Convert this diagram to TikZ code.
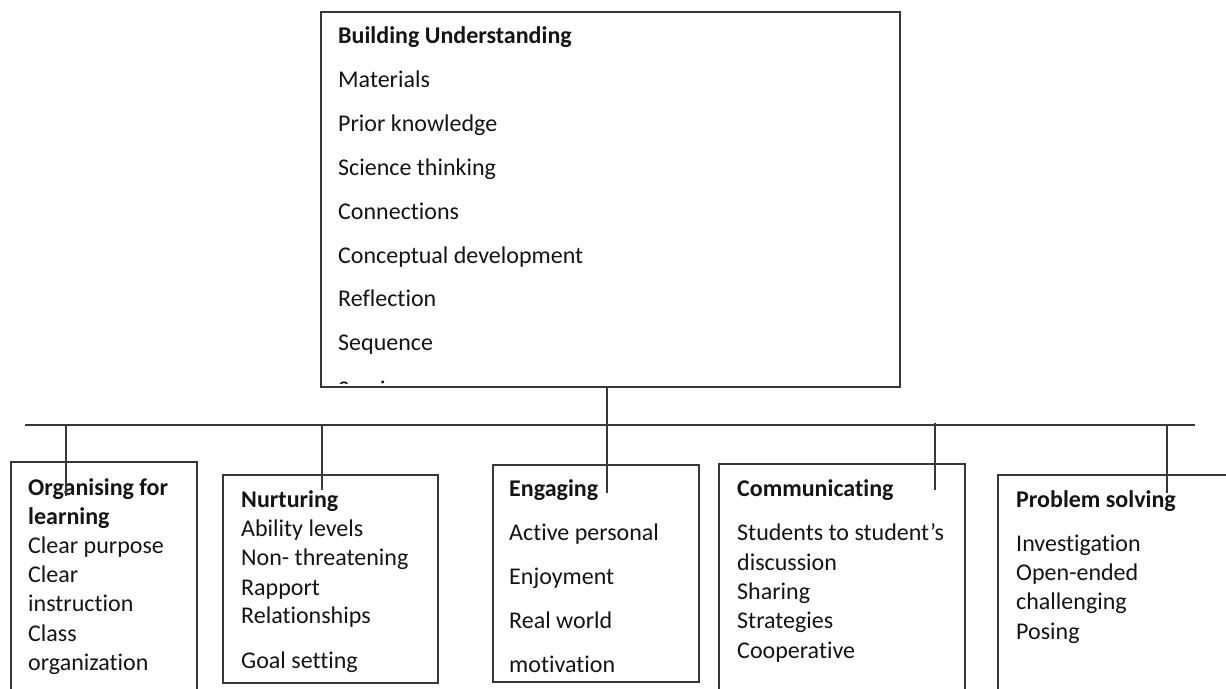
\documentclass[tikz,border=0pt]{standalone}
\usepackage{fontspec}
\setmainfont{Carlito}[Ligatures=NoCommon]
\begin{document}
\begin{tikzpicture}[x=1pt,y=-1pt,
  ln/.style={line width=1.3pt, draw=black!78},
  box/.style={ln, rectangle, anchor=north west, inner sep=0pt, outer sep=0pt},
  txt/.style={anchor=base west, inner sep=0pt, font=\fontsize{24}{29}\selectfont, text=black!92},
  hd/.style={txt, font=\fontsize{24}{29}\selectfont\bfseries}]
\useasboundingbox (0,0) rectangle (1226,688);
\clip (0,0) rectangle (1226,688);

% boxes
\node[box, minimum width=579pt, minimum height=375pt] (top) at (321,12) {};
\node[box, minimum width=186pt, minimum height=260pt] (b1) at (11,462) {};
\node[box, minimum width=215pt, minimum height=208pt] (b2) at (223,475) {};
\node[box, minimum width=206pt, minimum height=217pt] (b3) at (493,465) {};
\node[box, minimum width=246pt, minimum height=260pt] (b4) at (719,464) {};
\node[box, minimum width=260pt, minimum height=260pt] (b5) at (998,475) {};

% top box text
\node[hd] (t0) at (338,43) {Building Understanding};
\node[txt] (t1) at (338,87) {Materials};
\node[txt] (t2) at (338,131) {Prior knowledge};
\node[txt] (t3) at (338,175) {Science thinking};
\node[txt] (t4) at (338,219) {Connections};
\node[txt] (t5) at (338,263) {Conceptual development};
\node[txt] (t6) at (338,306) {Reflection};
\node[txt] (t7) at (338,350) {Sequence};
\begin{scope}
\clip (330,370) rectangle (890,383);
\node[txt] (t8) at (338,397) {Scoring};
\end{scope}

% box 1
\node[hd] (a0) at (28,495) {Organising for};
\node[hd] (a1) at (28,524) {learning};
\node[txt] (a2) at (28,553) {Clear purpose};
\node[txt] (a3) at (28,582) {Clear};
\node[txt] (a4) at (28,611) {instruction};
\node[txt] (a5) at (28,641) {Class};
\node[txt] (a6) at (28,670) {organization};

% box 2
\node[hd] (n0) at (241,507) {Nurturing};
\node[txt] (n1) at (241,536) {Ability levels};
\node[txt] (n2) at (241,565) {Non- threatening};
\node[txt] (n3) at (241,595) {Rapport};
\node[txt] (n4) at (241,623) {Relationships};
\node[txt] (n5) at (241,668) {Goal setting};

% box 3
\node[hd] (e0) at (509,496) {Engaging};
\node[txt] (e1) at (509,540) {Active personal};
\node[txt] (e2) at (509,584) {Enjoyment};
\node[txt] (e3) at (509,628) {Real world};
\node[txt] (e4) at (509,672) {motivation};

% box 4
\node[hd] (c0) at (737,496) {Communicating};
\node[txt] (c1) at (737,540) {Students to student’s};
\node[txt] (c2) at (737,570) {discussion};
\node[txt] (c3) at (737,599) {Sharing};
\node[txt] (c4) at (737,628) {Strategies};
\node[txt] (c5) at (737,658) {Cooperative};

% box 5
\node[hd] (p0) at (1016,507) {Problem solving};
\node[txt] (p1) at (1016,551) {Investigation};
\node[txt] (p2) at (1016,580) {Open-ended};
\node[txt] (p3) at (1016,609) {challenging};
\node[txt] (p4) at (1016,639) {Posing};

% connectors
\coordinate (busL) at (25,425);
\coordinate (busR) at (1195,425);
\draw[ln] (busL) -- (busR);

\coordinate (eEnd) at (607,493);
\draw[ln] (top.south -| eEnd) -- (eEnd);

\coordinate (d1s) at (66,425);  \coordinate (d1e) at (66,496);
\coordinate (d2s) at (322,425); \coordinate (d2e) at (322,490);
\coordinate (d4s) at (935,423); \coordinate (d4e) at (935,490);
\coordinate (d5s) at (1167,425); \coordinate (d5e) at (1167,493);
\draw[ln] (d1s) -- (d1e);
\draw[ln] (d2s) -- (d2e);
\draw[ln] (d4s) -- (d4e);
\draw[ln] (d5s) -- (d5e);
\end{tikzpicture}
\end{document}
